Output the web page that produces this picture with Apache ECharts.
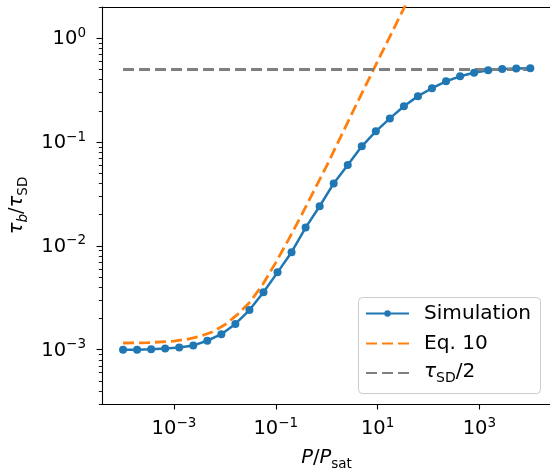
<!DOCTYPE html>
<html>
<head>
<meta charset="utf-8">
<script src="https://cdn.jsdelivr.net/npm/echarts@6/dist/echarts.min.js"></script>
<style>
html,body{margin:0;padding:0;background:#fff;overflow:hidden;}
#chart{width:550px;height:468px;}
</style>
</head>
<body>
<div id="chart"></div>
<script>
// Simulation data
const simX = [1.000e-4, 1.887e-4, 3.562e-4, 6.723e-4, 1.269e-3, 2.395e-3, 4.520e-3, 8.532e-3,
  1.610e-2, 3.039e-2, 5.736e-2, 0.1083, 0.2043, 0.3857, 0.7279, 1.374, 2.593, 4.894, 9.237,
  17.43, 32.90, 62.10, 117.2, 221.2, 417.5, 788.0, 1487, 2807, 5298, 10000];
const simY = [1.00e-3, 1.00e-3, 1.01e-3, 1.03e-3, 1.05e-3, 1.10e-3, 1.22e-3, 1.41e-3,
  1.77e-3, 2.41e-3, 3.57e-3, 5.56e-3, 8.69e-3, 1.50e-2, 2.41e-2, 4.00e-2, 6.00e-2, 9.10e-2, 0.127,
  0.169, 0.221, 0.277, 0.330, 0.385, 0.430, 0.466, 0.491, 0.505, 0.511, 0.515];
// Eq. 10 curve
const eqX = [1e-4, 3.16e-4, 1e-3, 1.78e-3, 3.16e-3, 5.62e-3, 1e-2, 1.78e-2, 3.16e-2, 5.62e-2,
  0.1, 0.178, 0.316, 1, 3.16, 10, 40];
const eqY = [1.16e-3, 1.17e-3, 1.21e-3, 1.26e-3, 1.34e-3, 1.48e-3, 1.74e-3, 2.19e-3, 2.90e-3, 4.30e-3,
  6.9e-3, 1.15e-2, 1.95e-2, 5.9e-2, 0.19, 0.60, 2.36];
// tau_SD / 2 line
const halfX = [1e-4, 1e4];
const halfY = [0.5, 0.5];
// tick values
const xMajorTicks = [1e-3, 1e-1, 1e1, 1e3];
const yMajorTicks = [1e-3, 1e-2, 1e-1, 1];
const yMinorTicks = [3e-4, 4e-4, 5e-4, 6e-4, 7e-4, 8e-4, 9e-4,
  2e-3, 3e-3, 4e-3, 5e-3, 6e-3, 7e-3, 8e-3, 9e-3,
  2e-2, 3e-2, 4e-2, 5e-2, 6e-2, 7e-2, 8e-2, 9e-2,
  0.2, 0.3, 0.4, 0.5, 0.6, 0.7, 0.8, 0.9, 2];
const seriesNames = ['Simulation', 'Eq. 10', 'tauSD/2'];

const FONT = 'DejaVu Sans';
const FS = 19.5;
const SFS = 13.5;
const LFS = 20.1;

const powRich = {
  b: {fontFamily: FONT, fontSize: FS, lineHeight: 22, verticalAlign: 'bottom', color: '#000'},
  s: {fontFamily: FONT, fontSize: SFS, lineHeight: 14, padding: [0, 0, 9, 0], verticalAlign: 'bottom', color: '#000'}
};
function powLabel(v) {
  const e = Math.round(Math.log10(v));
  const t = e < 0 ? '\u2212' + (-e) : String(e);
  return '{b|10}{s|' + t + '}';
}
function makeSubRich(fs, sfs) {
  return {
    i: {fontFamily: FONT, fontSize: fs, fontStyle: 'italic', lineHeight: 22, verticalAlign: 'top', color: '#000'},
    n: {fontFamily: FONT, fontSize: fs, lineHeight: 22, verticalAlign: 'top', color: '#000'},
    si: {fontFamily: FONT, fontSize: sfs, fontStyle: 'italic', lineHeight: 14, padding: [9, 0, 0, 0], verticalAlign: 'top', color: '#000'},
    sub: {fontFamily: FONT, fontSize: sfs, lineHeight: 14, padding: [9, 0, 0, 0], verticalAlign: 'top', color: '#000'}
  };
}
const subRich = makeSubRich(FS, SFS);
const legRich = makeSubRich(LFS, 14);

const XMIN = 3.86e-5, XMAX = 2.55e4, YMIN = 3e-4, YMAX = 2;
const black = {color: '#000', width: 1.1};

const chart = echarts.init(document.getElementById('chart'), null, {renderer: 'canvas'});
chart.setOption({
  animation: false,
  backgroundColor: '#fff',
  textStyle: {fontFamily: FONT},
  grid: {left: 102, top: 7, width: 449, height: 397, containLabel: false, outerBoundsMode: 'none'},
  graphic: [{
    type: 'rect', z: 3, silent: true,
    shape: {x: 358.5, y: 297.5, width: 182, height: 96, r: 4},
    style: {fill: 'rgba(255,255,255,0.8)', stroke: '#cccccc', lineWidth: 1}
  }],
  legend: {
    orient: 'vertical',
    left: 358, top: 297,
    padding: [5, 9, 8, 7],
    itemGap: 7,
    itemWidth: 43, itemHeight: 8,
    backgroundColor: 'transparent',
    borderWidth: 0,
    textStyle: {fontFamily: FONT, fontSize: LFS, lineHeight: 23, color: '#000', padding: [0, 0, 0, 10], rich: legRich},
    formatter: function (name) {
      if (name === 'tauSD/2') return '{i|\u03c4}{sub|SD}{n|/2}';
      return name;
    },
    data: [
      {name: seriesNames[0]},
      {name: seriesNames[1], itemStyle: {opacity: 0}},
      {name: seriesNames[2], itemStyle: {opacity: 0}}
    ]
  },
  xAxis: [{
    type: 'log', logBase: 10, min: XMIN, max: XMAX,
    name: '{i|P}{n|/}{i|P}{sub|sat}',
    nameLocation: 'middle', nameGap: 44,
    nameTextStyle: {rich: subRich, fontSize: FS},
    axisLine: {show: true, onZero: false, lineStyle: black},
    axisTick: {show: true, length: 5.5, customValues: xMajorTicks, lineStyle: black},
    minorTick: {show: false},
    axisLabel: {customValues: xMajorTicks, margin: 13, formatter: powLabel, rich: powRich},
    splitLine: {show: false}
  }, {
    type: 'log', logBase: 10, min: XMIN, max: XMAX, position: 'top',
    axisLine: {show: true, onZero: false, lineStyle: black},
    axisTick: {show: false}, axisLabel: {show: false}, splitLine: {show: false}
  }],
  yAxis: [{
    type: 'log', logBase: 10, min: YMIN, max: YMAX,
    name: '{i|\u03c4}{si|b}{n|/}{i|\u03c4}{sub|SD}',
    nameLocation: 'middle', nameGap: 70, nameRotate: 90,
    nameTextStyle: {rich: subRich, fontSize: FS},
    axisLine: {show: true, onZero: false, lineStyle: black},
    axisTick: {show: true, length: 5.5, customValues: yMajorTicks, lineStyle: black},
    minorTick: {show: false},
    axisLabel: {customValues: yMajorTicks, margin: 16, formatter: powLabel, rich: powRich},
    splitLine: {show: false}
  }, {
    type: 'log', logBase: 10, min: YMIN, max: YMAX, position: 'left',
    axisLine: {show: false},
    axisTick: {show: true, length: 3.2, customValues: yMinorTicks, lineStyle: {color: '#000', width: 0.9}},
    axisLabel: {show: false}, splitLine: {show: false}
  }],
  series: [{
    name: seriesNames[0], type: 'line', xAxisIndex: 0, yAxisIndex: 0,
    data: simX.map((x, i) => [x, simY[i]]),
    symbol: 'circle', symbolSize: 8, showSymbol: true,
    color: '#1f77b4',
    lineStyle: {color: '#1f77b4', width: 2.5},
    itemStyle: {color: '#1f77b4'},
    emphasis: {disabled: true}
  }, {
    name: seriesNames[1], type: 'line', xAxisIndex: 0, yAxisIndex: 0,
    data: eqX.map((x, i) => [x, eqY[i]]),
    symbol: 'none', showSymbol: false,
    color: '#ff7f0e',
    lineStyle: {color: '#ff7f0e', width: 2.8, type: [11, 5]},
    emphasis: {disabled: true}
  }, {
    name: seriesNames[2], type: 'line', xAxisIndex: 0, yAxisIndex: 0,
    data: halfX.map((x, i) => [x, halfY[i]]),
    symbol: 'none', showSymbol: false,
    color: '#7f7f7f',
    lineStyle: {color: '#7f7f7f', width: 2.8, type: [11, 5]},
    emphasis: {disabled: true}
  }]
});
</script>
</body>
</html>
